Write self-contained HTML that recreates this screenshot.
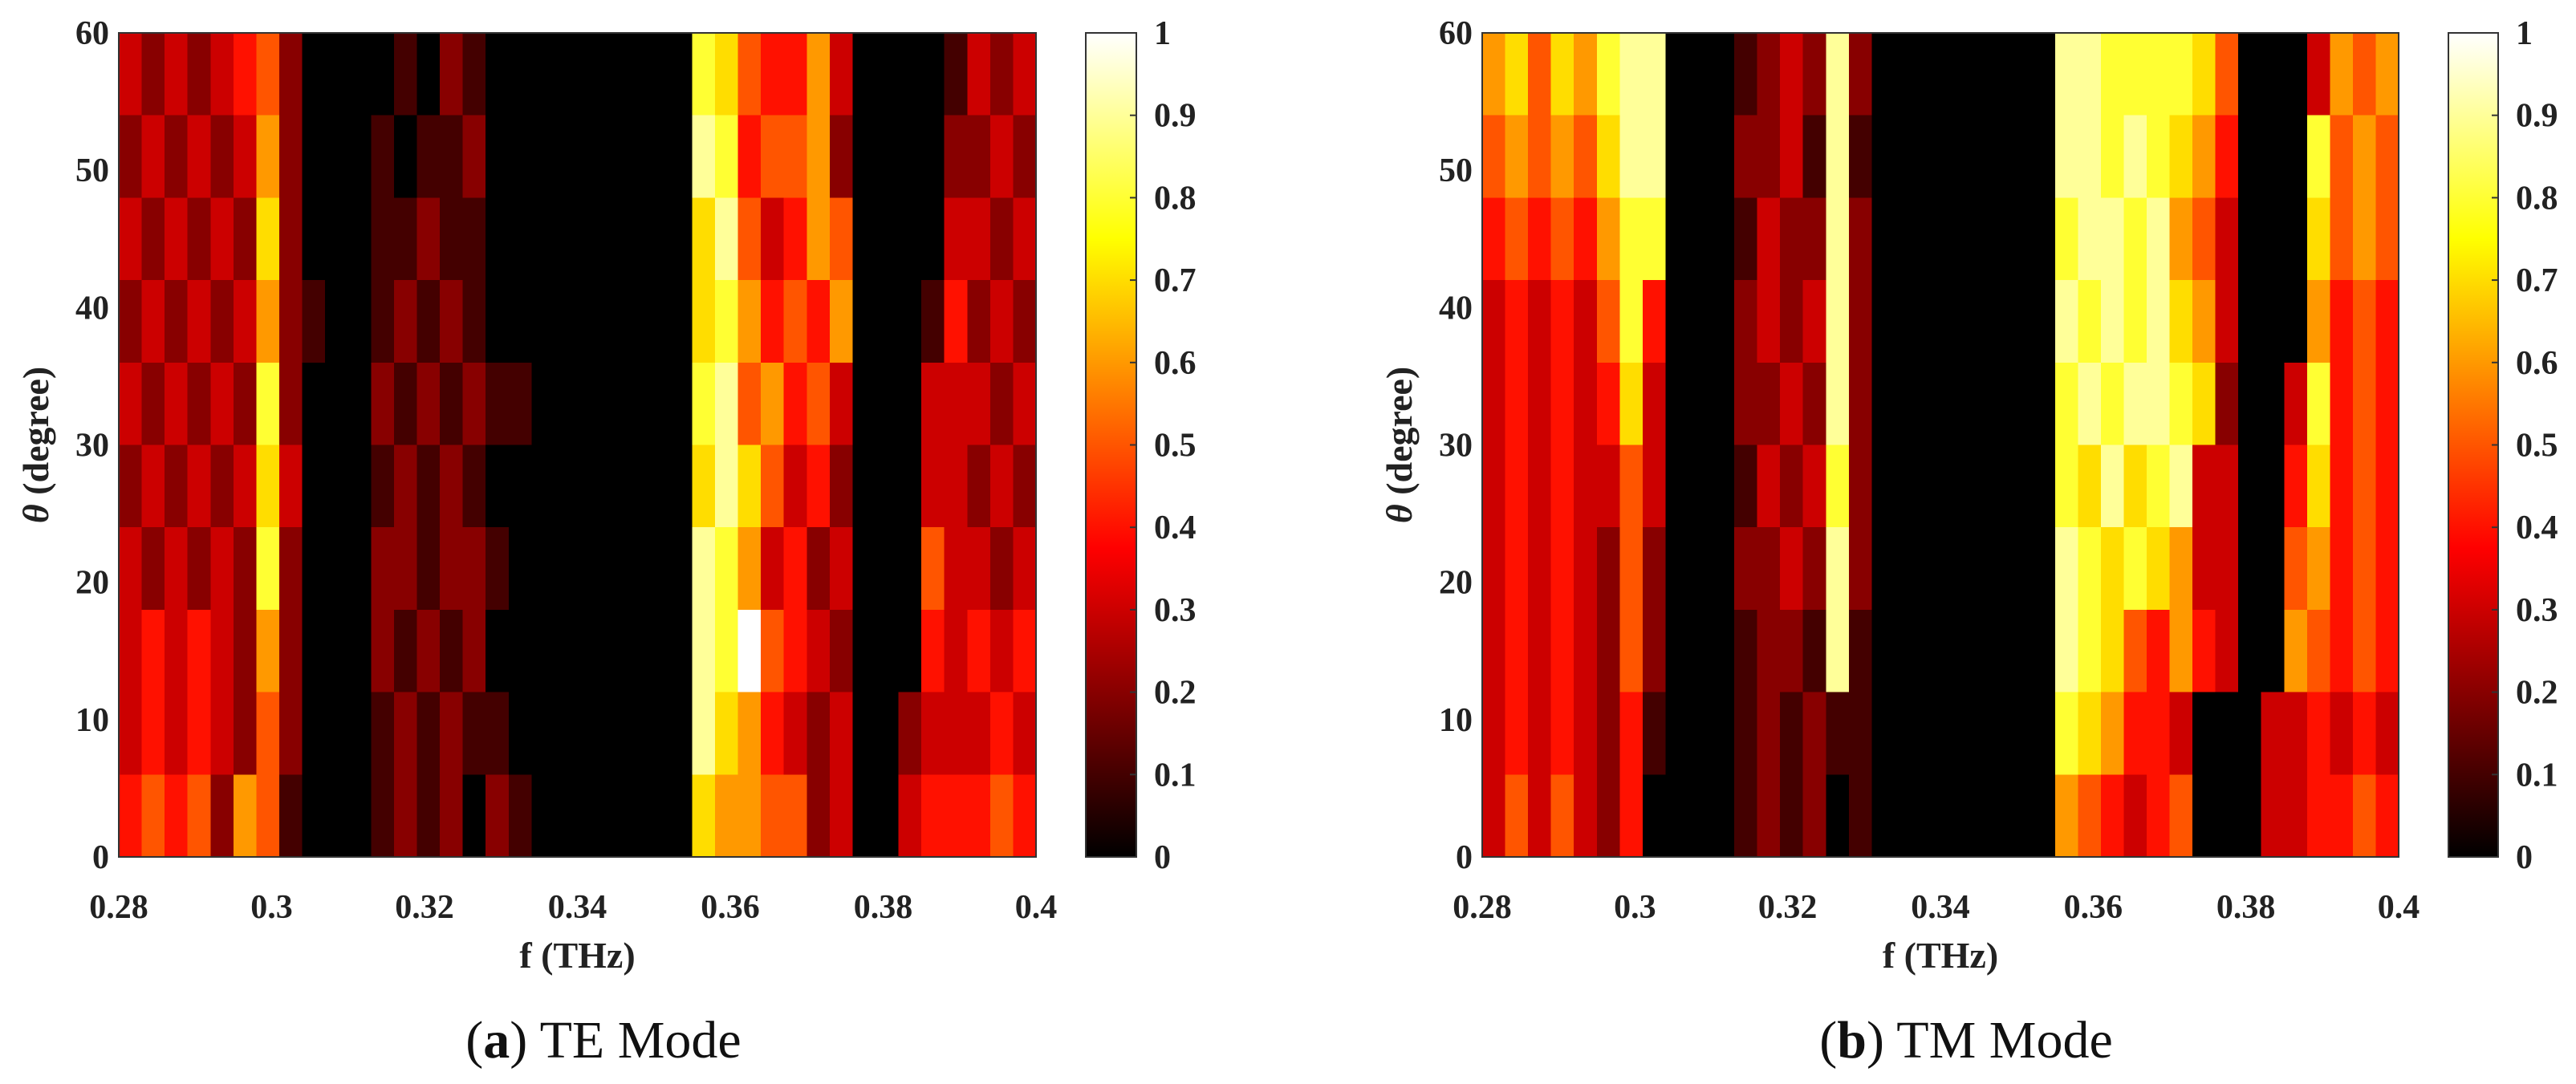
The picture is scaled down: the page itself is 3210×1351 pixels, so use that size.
<!DOCTYPE html>
<html><head><meta charset="utf-8">
<style>html,body{margin:0;padding:0;background:#fff;}svg{display:block;}</style>
</head><body>
<svg id="fig" xmlns="http://www.w3.org/2000/svg" width="3210" height="1351" viewBox="0 0 3210 1351" font-family="'Liberation Serif', serif"></svg>
<script>
// ---- data ----
const freqTicks = [0.28, 0.30, 0.32, 0.34, 0.36, 0.38, 0.40];
const freqTickLabels = ['0.28','0.3','0.32','0.34','0.36','0.38','0.4'];
const angleTicks = [0, 10, 20, 30, 40, 50, 60];
const cbTicks = [0,0.1,0.2,0.3,0.4,0.5,0.6,0.7,0.8,0.9,1];
const cbTickLabels = ['0','0.1','0.2','0.3','0.4','0.5','0.6','0.7','0.8','0.9','1'];
const fStart = 0.28, fStep = 0.003;   // 40 frequency bins
const aStep = 6;                      // 10 angle bins, rows listed top (60°) to bottom (0°)
const teRows = [
 "3232345200001021000000000875446300001323",
 "2323236200010112000000000984556200002232",
 "3232327200011211000000000795346500003323",
 "2323236210012121000000000786454600014232",
 "3232328200021212110000000895645300033323",
 "2323237300012121000000000797534200033232",
 "3232328200022122100000000986342300053323",
 "343432620002121200000000098a543200043434",
 "3434325200012121100000000976432300233343",
 "4545265100012120210000000766552300344454"
];
const tmRows = [
 "6757689900012329200000000998888750003656",
 "5656579900022319100000000998987640008565",
 "4545468800013229200000000899896530007565",
 "3434358400023239200000000989897630006454",
 "3434347300022329200000000898998720038454",
 "3434335300013238200000000879789330047454",
 "3434325200022329200000000987876330056454",
 "3434325200012219100000000987546430065454",
 "3434324100012121100000000876443000334343",
 "3535324000012120100000000654345000334454"
];
// ---- helpers ----
const NS='http://www.w3.org/2000/svg';
const svg=document.getElementById('fig');
function mk(tag,attrs,parent){const e=document.createElementNS(NS,tag);for(const k in attrs)e.setAttribute(k,attrs[k]);(parent||svg).appendChild(e);return e;}
function hot(v){
  v=Math.max(0,Math.min(1,v));
  const r=Math.min(1,v/0.375), g=Math.max(0,Math.min(1,(v-0.375)/0.375)), b=Math.max(0,(v-0.75)/0.25);
  return `rgb(${Math.round(r*255)},${Math.round(g*255)},${Math.round(b*255)})`;
}
function val(ch){return ch==='a'?1:(parseInt(ch,10)/10);}

function panel(rows, X0, X1, Y0, Y1, CB0, CB1, caption, capBold, capRest, key){
  const xS=f=>X0+(f-0.28)/(0.40-0.28)*(X1-X0);
  const yS=a=>Y1-(a/60)*(Y1-Y0);
  const g=mk('g',{});  
  const hm=mk('g',{'shape-rendering':'crispEdges'},g);
   
  rows.forEach((row,ri)=>{
    const aTop=60-ri*aStep, aBot=aTop-aStep;
    for(let ci=0;ci<row.length;ci++){
      const f0=fStart+ci*fStep, f1=f0+fStep;
      const x=xS(f0), w=xS(f1)-x+0.6, y=yS(aTop), h=yS(aBot)-y+0.6;
      const r=mk('rect',{x:x,y:y,width:w,height:h,fill:hot(val(row[ci]))},hm);
      
      
    }
  });
  const fr=mk('rect',{x:X0,y:Y0,width:X1-X0,height:Y1-Y0,fill:'none',stroke:'#333','stroke-width':2},g);
   
  freqTicks.forEach((f,i)=>{
    const t=mk('text',{x:xS(f),y:Y1+76,'text-anchor':'middle','font-size':42,'font-weight':'bold',fill:'#222'},g);
    t.textContent=freqTickLabels[i];
     
  });
  angleTicks.forEach(a=>{
    const t=mk('text',{x:X0-12,y:yS(a)+14,'text-anchor':'end','font-size':42,'font-weight':'bold',fill:'#222'},g);
    t.textContent=String(a);
     
  });
  const xl=mk('text',{x:(X0+X1)/2,y:Y1+138,'text-anchor':'middle','font-size':46,'font-weight':'bold',fill:'#222'},g);
  xl.textContent='f (THz)';
   
  const yl=mk('text',{x:0,y:0,'text-anchor':'middle','font-size':46,'font-weight':'bold',fill:'#222',transform:`translate(${X0-88},${(Y0+Y1)/2}) rotate(-90)`},g);
  yl.innerHTML='<tspan font-style="italic">θ</tspan> (degree)';
   
  const gid='cbg'+key;
  const defs=mk('defs',{},g);
  const lg=mk('linearGradient',{id:gid,x1:0,y1:1,x2:0,y2:0},defs);
  [[0,'#000'],[0.375,'#f00'],[0.75,'#ff0'],[1,'#fff']].forEach(s=>mk('stop',{offset:s[0],'stop-color':s[1]},lg));
  const cb=mk('rect',{x:CB0,y:Y0,width:CB1-CB0,height:Y1-Y0,fill:`url(#${gid})`,stroke:'#333','stroke-width':2},g);
   
  cbTicks.forEach((v,i)=>{
    const y=Y1-v*(Y1-Y0);
    mk('line',{x1:CB1-8,x2:CB1,y1:y,y2:y,stroke:'#333','stroke-width':2},g);
    const t=mk('text',{x:CB1+22,y:y+14,'font-size':42,'font-weight':'bold',fill:'#222'},g);
    t.textContent=cbTickLabels[i];
     
  });
  const cap=mk('text',{x:(X0+CB1)/2-30,y:1318,'text-anchor':'middle','font-size':66,fill:'#111'},g);
  cap.innerHTML=`(<tspan font-weight="bold">${capBold}</tspan>) ${capRest}`;
   
}
panel(teRows,148,1291,41,1068,1353,1416,'','a','TE Mode','te');
panel(tmRows,1847,2989,41,1068,3051,3113,'','b','TM Mode','tm');
</script>
</body></html>
